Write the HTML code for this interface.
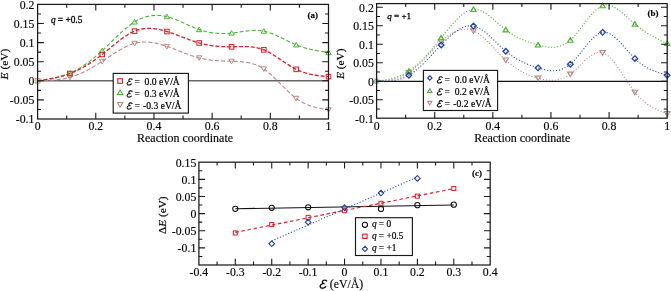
<!DOCTYPE html>
<html><head><meta charset="utf-8"><style>
html,body{margin:0;padding:0;background:#fff;}
svg{display:block;will-change:transform;}
</style></head><body>
<svg width="671" height="291" viewBox="0 0 671 291">
<defs><clipPath id="ca"><rect x="37.6" y="4.3999999999999915" width="290.9" height="114.60000000000001"/></clipPath><clipPath id="cb"><rect x="376.6" y="3.6" width="290.6" height="114.60000000000001"/></clipPath></defs><line x1="37.6" y1="80.85" x2="328.5" y2="80.85" stroke="#666" stroke-width="1.5"/><path d="M37.60 80.80 L38.41 80.79 L39.22 80.77 L40.02 80.76 L40.83 80.74 L41.64 80.73 L42.45 80.71 L43.26 80.69 L44.06 80.67 L44.87 80.64 L45.68 80.62 L46.49 80.59 L47.30 80.56 L48.10 80.52 L48.91 80.48 L49.72 80.44 L50.53 80.40 L51.34 80.35 L52.14 80.29 L52.95 80.23 L53.76 80.16 L54.57 80.09 L55.38 80.02 L56.19 79.94 L56.99 79.85 L57.80 79.75 L58.61 79.65 L59.42 79.54 L60.23 79.43 L61.03 79.30 L61.84 79.17 L62.65 79.03 L63.46 78.88 L64.27 78.73 L65.07 78.56 L65.88 78.38 L66.69 78.20 L67.50 78.01 L68.31 77.80 L69.11 77.59 L69.92 77.36 L70.73 77.13 L71.54 76.88 L72.35 76.62 L73.15 76.36 L73.96 76.08 L74.77 75.79 L75.58 75.49 L76.39 75.19 L77.19 74.87 L78.00 74.54 L78.81 74.21 L79.62 73.87 L80.43 73.51 L81.23 73.15 L82.04 72.78 L82.85 72.41 L83.66 72.02 L84.47 71.63 L85.28 71.23 L86.08 70.82 L86.89 70.40 L87.70 69.98 L88.51 69.55 L89.32 69.11 L90.12 68.66 L90.93 68.21 L91.74 67.76 L92.55 67.29 L93.36 66.82 L94.16 66.35 L94.97 65.87 L95.78 65.38 L96.59 64.89 L97.40 64.40 L98.20 63.89 L99.01 63.39 L99.82 62.88 L100.63 62.36 L101.44 61.84 L102.24 61.32 L103.05 60.79 L103.86 60.26 L104.67 59.73 L105.48 59.19 L106.28 58.65 L107.09 58.11 L107.90 57.58 L108.71 57.04 L109.52 56.50 L110.32 55.96 L111.13 55.43 L111.94 54.89 L112.75 54.37 L113.56 53.84 L114.37 53.32 L115.17 52.80 L115.98 52.29 L116.79 51.79 L117.60 51.29 L118.41 50.80 L119.21 50.31 L120.02 49.84 L120.83 49.37 L121.64 48.91 L122.45 48.47 L123.25 48.03 L124.06 47.60 L124.87 47.19 L125.68 46.79 L126.49 46.40 L127.29 46.03 L128.10 45.67 L128.91 45.32 L129.72 44.99 L130.53 44.68 L131.33 44.38 L132.14 44.10 L132.95 43.84 L133.76 43.59 L134.57 43.36 L135.37 43.16 L136.18 42.97 L136.99 42.80 L137.80 42.65 L138.61 42.52 L139.41 42.40 L140.22 42.30 L141.03 42.22 L141.84 42.16 L142.65 42.11 L143.46 42.07 L144.26 42.06 L145.07 42.05 L145.88 42.07 L146.69 42.09 L147.50 42.14 L148.30 42.19 L149.11 42.26 L149.92 42.34 L150.73 42.43 L151.54 42.54 L152.34 42.66 L153.15 42.79 L153.96 42.93 L154.77 43.08 L155.58 43.24 L156.38 43.41 L157.19 43.60 L158.00 43.79 L158.81 43.99 L159.62 44.20 L160.42 44.42 L161.23 44.64 L162.04 44.88 L162.85 45.12 L163.66 45.37 L164.46 45.62 L165.27 45.88 L166.08 46.15 L166.89 46.42 L167.70 46.70 L168.50 46.98 L169.31 47.27 L170.12 47.56 L170.93 47.85 L171.74 48.15 L172.55 48.45 L173.35 48.76 L174.16 49.06 L174.97 49.37 L175.78 49.68 L176.59 50.00 L177.39 50.31 L178.20 50.62 L179.01 50.94 L179.82 51.25 L180.63 51.56 L181.43 51.88 L182.24 52.19 L183.05 52.50 L183.86 52.81 L184.67 53.11 L185.47 53.42 L186.28 53.72 L187.09 54.02 L187.90 54.31 L188.71 54.60 L189.51 54.89 L190.32 55.17 L191.13 55.45 L191.94 55.72 L192.75 55.99 L193.55 56.25 L194.36 56.50 L195.17 56.75 L195.98 56.99 L196.79 57.23 L197.59 57.45 L198.40 57.67 L199.21 57.88 L200.02 58.08 L200.83 58.27 L201.64 58.46 L202.44 58.63 L203.25 58.80 L204.06 58.96 L204.87 59.11 L205.68 59.26 L206.48 59.40 L207.29 59.53 L208.10 59.66 L208.91 59.78 L209.72 59.89 L210.52 59.99 L211.33 60.09 L212.14 60.19 L212.95 60.28 L213.76 60.36 L214.56 60.44 L215.37 60.52 L216.18 60.59 L216.99 60.65 L217.80 60.71 L218.60 60.77 L219.41 60.83 L220.22 60.88 L221.03 60.92 L221.84 60.97 L222.64 61.01 L223.45 61.04 L224.26 61.08 L225.07 61.11 L225.88 61.14 L226.68 61.17 L227.49 61.20 L228.30 61.23 L229.11 61.25 L229.92 61.27 L230.73 61.30 L231.53 61.32 L232.34 61.34 L233.15 61.36 L233.96 61.38 L234.77 61.41 L235.57 61.43 L236.38 61.46 L237.19 61.50 L238.00 61.53 L238.81 61.57 L239.61 61.62 L240.42 61.67 L241.23 61.73 L242.04 61.80 L242.85 61.88 L243.65 61.96 L244.46 62.06 L245.27 62.16 L246.08 62.28 L246.89 62.41 L247.69 62.55 L248.50 62.70 L249.31 62.87 L250.12 63.05 L250.93 63.24 L251.73 63.45 L252.54 63.68 L253.35 63.93 L254.16 64.19 L254.97 64.47 L255.77 64.77 L256.58 65.09 L257.39 65.43 L258.20 65.79 L259.01 66.17 L259.82 66.58 L260.62 67.00 L261.43 67.45 L262.24 67.93 L263.05 68.43 L263.86 68.96 L264.66 69.51 L265.47 70.09 L266.28 70.69 L267.09 71.31 L267.90 71.96 L268.70 72.63 L269.51 73.31 L270.32 74.01 L271.13 74.73 L271.94 75.47 L272.74 76.21 L273.55 76.98 L274.36 77.75 L275.17 78.53 L275.98 79.32 L276.78 80.12 L277.59 80.93 L278.40 81.74 L279.21 82.55 L280.02 83.37 L280.82 84.19 L281.63 85.01 L282.44 85.83 L283.25 86.64 L284.06 87.45 L284.87 88.26 L285.67 89.06 L286.48 89.86 L287.29 90.64 L288.10 91.42 L288.91 92.18 L289.71 92.94 L290.52 93.68 L291.33 94.40 L292.14 95.11 L292.95 95.80 L293.75 96.48 L294.56 97.13 L295.37 97.76 L296.18 98.37 L297.01 98.97 L297.84 99.55 L298.66 100.11 L299.49 100.64 L300.32 101.15 L301.15 101.64 L301.98 102.10 L302.81 102.55 L303.64 102.98 L304.47 103.39 L305.29 103.78 L306.12 104.15 L306.95 104.51 L307.78 104.85 L308.61 105.17 L309.44 105.48 L310.27 105.77 L311.10 106.05 L311.92 106.32 L312.75 106.57 L313.58 106.81 L314.41 107.04 L315.24 107.26 L316.07 107.47 L316.90 107.67 L317.73 107.86 L318.55 108.05 L319.38 108.22 L320.21 108.39 L321.04 108.55 L321.87 108.71 L322.70 108.86 L323.53 109.01 L324.36 109.15 L325.18 109.29 L326.01 109.43 L326.84 109.56 L327.67 109.70 L328.50 109.83" fill="none" stroke="#b88888" stroke-width="1.1" stroke-dasharray="4.2 2.1" clip-path="url(#ca)"/><path d="M37.60 80.80 L38.41 80.69 L39.22 80.58 L40.02 80.47 L40.83 80.35 L41.64 80.24 L42.45 80.12 L43.26 80.01 L44.06 79.89 L44.87 79.77 L45.68 79.64 L46.49 79.51 L47.30 79.38 L48.10 79.25 L48.91 79.11 L49.72 78.97 L50.53 78.82 L51.34 78.67 L52.14 78.51 L52.95 78.35 L53.76 78.18 L54.57 78.01 L55.38 77.83 L56.19 77.64 L56.99 77.45 L57.80 77.25 L58.61 77.04 L59.42 76.82 L60.23 76.60 L61.03 76.36 L61.84 76.12 L62.65 75.87 L63.46 75.61 L64.27 75.34 L65.07 75.06 L65.88 74.77 L66.69 74.47 L67.50 74.16 L68.31 73.84 L69.11 73.51 L69.92 73.16 L70.73 72.80 L71.54 72.43 L72.35 72.05 L73.15 71.66 L73.96 71.25 L74.77 70.84 L75.58 70.41 L76.39 69.97 L77.19 69.52 L78.00 69.06 L78.81 68.59 L79.62 68.11 L80.43 67.61 L81.23 67.11 L82.04 66.60 L82.85 66.07 L83.66 65.53 L84.47 64.99 L85.28 64.43 L86.08 63.87 L86.89 63.29 L87.70 62.71 L88.51 62.11 L89.32 61.51 L90.12 60.89 L90.93 60.27 L91.74 59.64 L92.55 59.00 L93.36 58.35 L94.16 57.69 L94.97 57.02 L95.78 56.34 L96.59 55.65 L97.40 54.96 L98.20 54.26 L99.01 53.55 L99.82 52.83 L100.63 52.10 L101.44 51.36 L102.24 50.62 L103.05 49.87 L103.86 49.11 L104.67 48.35 L105.48 47.58 L106.28 46.81 L107.09 46.03 L107.90 45.24 L108.71 44.46 L109.52 43.67 L110.32 42.88 L111.13 42.09 L111.94 41.30 L112.75 40.51 L113.56 39.73 L114.37 38.94 L115.17 38.16 L115.98 37.38 L116.79 36.60 L117.60 35.83 L118.41 35.07 L119.21 34.31 L120.02 33.55 L120.83 32.81 L121.64 32.07 L122.45 31.34 L123.25 30.63 L124.06 29.92 L124.87 29.22 L125.68 28.54 L126.49 27.86 L127.29 27.20 L128.10 26.56 L128.91 25.93 L129.72 25.31 L130.53 24.71 L131.33 24.13 L132.14 23.56 L132.95 23.01 L133.76 22.48 L134.57 21.97 L135.37 21.48 L136.18 21.01 L136.99 20.56 L137.80 20.13 L138.61 19.72 L139.41 19.33 L140.22 18.95 L141.03 18.60 L141.84 18.26 L142.65 17.95 L143.46 17.65 L144.26 17.37 L145.07 17.11 L145.88 16.87 L146.69 16.65 L147.50 16.44 L148.30 16.26 L149.11 16.09 L149.92 15.94 L150.73 15.80 L151.54 15.69 L152.34 15.59 L153.15 15.50 L153.96 15.44 L154.77 15.39 L155.58 15.36 L156.38 15.35 L157.19 15.35 L158.00 15.37 L158.81 15.40 L159.62 15.45 L160.42 15.52 L161.23 15.61 L162.04 15.70 L162.85 15.82 L163.66 15.95 L164.46 16.10 L165.27 16.26 L166.08 16.43 L166.89 16.62 L167.70 16.83 L168.50 17.05 L169.31 17.28 L170.12 17.53 L170.93 17.79 L171.74 18.06 L172.55 18.34 L173.35 18.64 L174.16 18.94 L174.97 19.25 L175.78 19.57 L176.59 19.90 L177.39 20.23 L178.20 20.57 L179.01 20.92 L179.82 21.27 L180.63 21.63 L181.43 21.99 L182.24 22.35 L183.05 22.72 L183.86 23.09 L184.67 23.46 L185.47 23.83 L186.28 24.20 L187.09 24.57 L187.90 24.94 L188.71 25.31 L189.51 25.67 L190.32 26.03 L191.13 26.39 L191.94 26.74 L192.75 27.09 L193.55 27.43 L194.36 27.77 L195.17 28.10 L195.98 28.42 L196.79 28.73 L197.59 29.03 L198.40 29.33 L199.21 29.61 L200.02 29.89 L200.83 30.15 L201.64 30.40 L202.44 30.64 L203.25 30.87 L204.06 31.09 L204.87 31.30 L205.68 31.50 L206.48 31.69 L207.29 31.87 L208.10 32.04 L208.91 32.20 L209.72 32.35 L210.52 32.49 L211.33 32.62 L212.14 32.74 L212.95 32.85 L213.76 32.95 L214.56 33.04 L215.37 33.13 L216.18 33.20 L216.99 33.27 L217.80 33.33 L218.60 33.38 L219.41 33.42 L220.22 33.45 L221.03 33.47 L221.84 33.48 L222.64 33.49 L223.45 33.49 L224.26 33.48 L225.07 33.46 L225.88 33.44 L226.68 33.40 L227.49 33.36 L228.30 33.32 L229.11 33.26 L229.92 33.20 L230.73 33.13 L231.53 33.05 L232.34 32.97 L233.15 32.88 L233.96 32.78 L234.77 32.68 L235.57 32.57 L236.38 32.46 L237.19 32.35 L238.00 32.23 L238.81 32.12 L239.61 32.00 L240.42 31.88 L241.23 31.76 L242.04 31.64 L242.85 31.53 L243.65 31.41 L244.46 31.30 L245.27 31.19 L246.08 31.09 L246.89 30.99 L247.69 30.89 L248.50 30.80 L249.31 30.72 L250.12 30.65 L250.93 30.58 L251.73 30.53 L252.54 30.48 L253.35 30.44 L254.16 30.41 L254.97 30.39 L255.77 30.39 L256.58 30.40 L257.39 30.42 L258.20 30.45 L259.01 30.50 L259.82 30.57 L260.62 30.65 L261.43 30.74 L262.24 30.86 L263.05 30.99 L263.86 31.14 L264.66 31.31 L265.47 31.50 L266.28 31.70 L267.09 31.92 L267.90 32.16 L268.70 32.41 L269.51 32.68 L270.32 32.96 L271.13 33.26 L271.94 33.57 L272.74 33.88 L273.55 34.21 L274.36 34.55 L275.17 34.90 L275.98 35.26 L276.78 35.63 L277.59 36.00 L278.40 36.38 L279.21 36.77 L280.02 37.16 L280.82 37.55 L281.63 37.95 L282.44 38.35 L283.25 38.76 L284.06 39.16 L284.87 39.57 L285.67 39.97 L286.48 40.38 L287.29 40.78 L288.10 41.18 L288.91 41.58 L289.71 41.97 L290.52 42.36 L291.33 42.74 L292.14 43.12 L292.95 43.49 L293.75 43.86 L294.56 44.21 L295.37 44.56 L296.18 44.89 L297.01 45.23 L297.84 45.55 L298.66 45.86 L299.49 46.16 L300.32 46.46 L301.15 46.74 L301.98 47.01 L302.81 47.28 L303.64 47.53 L304.47 47.78 L305.29 48.02 L306.12 48.25 L306.95 48.48 L307.78 48.69 L308.61 48.90 L309.44 49.10 L310.27 49.30 L311.10 49.49 L311.92 49.67 L312.75 49.85 L313.58 50.02 L314.41 50.19 L315.24 50.35 L316.07 50.51 L316.90 50.66 L317.73 50.81 L318.55 50.96 L319.38 51.10 L320.21 51.24 L321.04 51.38 L321.87 51.51 L322.70 51.65 L323.53 51.78 L324.36 51.91 L325.18 52.03 L326.01 52.16 L326.84 52.28 L327.67 52.41 L328.50 52.53" fill="none" stroke="#48b430" stroke-width="1.1" stroke-dasharray="3.9 2.2" clip-path="url(#ca)"/><path d="M37.60 80.80 L38.41 80.68 L39.22 80.56 L40.02 80.44 L40.83 80.32 L41.64 80.20 L42.45 80.08 L43.26 79.95 L44.06 79.82 L44.87 79.70 L45.68 79.57 L46.49 79.43 L47.30 79.30 L48.10 79.16 L48.91 79.02 L49.72 78.88 L50.53 78.73 L51.34 78.58 L52.14 78.42 L52.95 78.27 L53.76 78.10 L54.57 77.93 L55.38 77.76 L56.19 77.58 L56.99 77.40 L57.80 77.21 L58.61 77.01 L59.42 76.81 L60.23 76.61 L61.03 76.39 L61.84 76.17 L62.65 75.94 L63.46 75.71 L64.27 75.47 L65.07 75.22 L65.88 74.96 L66.69 74.69 L67.50 74.42 L68.31 74.13 L69.11 73.84 L69.92 73.54 L70.73 73.23 L71.54 72.91 L72.35 72.58 L73.15 72.25 L73.96 71.90 L74.77 71.54 L75.58 71.18 L76.39 70.80 L77.19 70.42 L78.00 70.03 L78.81 69.63 L79.62 69.22 L80.43 68.80 L81.23 68.38 L82.04 67.94 L82.85 67.50 L83.66 67.05 L84.47 66.59 L85.28 66.12 L86.08 65.64 L86.89 65.16 L87.70 64.66 L88.51 64.16 L89.32 63.65 L90.12 63.13 L90.93 62.61 L91.74 62.08 L92.55 61.53 L93.36 60.98 L94.16 60.43 L94.97 59.86 L95.78 59.29 L96.59 58.71 L97.40 58.12 L98.20 57.53 L99.01 56.93 L99.82 56.32 L100.63 55.70 L101.44 55.07 L102.24 54.44 L103.05 53.80 L103.86 53.16 L104.67 52.51 L105.48 51.85 L106.28 51.19 L107.09 50.53 L107.90 49.86 L108.71 49.19 L109.52 48.52 L110.32 47.85 L111.13 47.18 L111.94 46.51 L112.75 45.84 L113.56 45.18 L114.37 44.52 L115.17 43.86 L115.98 43.21 L116.79 42.56 L117.60 41.91 L118.41 41.28 L119.21 40.65 L120.02 40.03 L120.83 39.42 L121.64 38.82 L122.45 38.23 L123.25 37.65 L124.06 37.08 L124.87 36.53 L125.68 35.99 L126.49 35.46 L127.29 34.95 L128.10 34.46 L128.91 33.98 L129.72 33.51 L130.53 33.07 L131.33 32.64 L132.14 32.24 L132.95 31.85 L133.76 31.48 L134.57 31.14 L135.37 30.82 L136.18 30.52 L136.99 30.24 L137.80 29.98 L138.61 29.75 L139.41 29.53 L140.22 29.33 L141.03 29.16 L141.84 29.00 L142.65 28.86 L143.46 28.74 L144.26 28.64 L145.07 28.55 L145.88 28.49 L146.69 28.44 L147.50 28.40 L148.30 28.38 L149.11 28.38 L149.92 28.39 L150.73 28.42 L151.54 28.46 L152.34 28.52 L153.15 28.59 L153.96 28.68 L154.77 28.77 L155.58 28.88 L156.38 29.00 L157.19 29.14 L158.00 29.28 L158.81 29.44 L159.62 29.61 L160.42 29.78 L161.23 29.97 L162.04 30.17 L162.85 30.37 L163.66 30.59 L164.46 30.81 L165.27 31.04 L166.08 31.28 L166.89 31.52 L167.70 31.77 L168.50 32.03 L169.31 32.30 L170.12 32.57 L170.93 32.84 L171.74 33.12 L172.55 33.41 L173.35 33.70 L174.16 33.99 L174.97 34.29 L175.78 34.59 L176.59 34.89 L177.39 35.19 L178.20 35.50 L179.01 35.81 L179.82 36.12 L180.63 36.43 L181.43 36.74 L182.24 37.05 L183.05 37.36 L183.86 37.67 L184.67 37.98 L185.47 38.29 L186.28 38.60 L187.09 38.90 L187.90 39.21 L188.71 39.50 L189.51 39.80 L190.32 40.09 L191.13 40.38 L191.94 40.67 L192.75 40.95 L193.55 41.22 L194.36 41.49 L195.17 41.76 L195.98 42.02 L196.79 42.27 L197.59 42.51 L198.40 42.75 L199.21 42.98 L200.02 43.20 L200.83 43.42 L201.64 43.63 L202.44 43.83 L203.25 44.02 L204.06 44.20 L204.87 44.38 L205.68 44.55 L206.48 44.71 L207.29 44.87 L208.10 45.02 L208.91 45.16 L209.72 45.30 L210.52 45.43 L211.33 45.55 L212.14 45.66 L212.95 45.77 L213.76 45.88 L214.56 45.98 L215.37 46.07 L216.18 46.15 L216.99 46.23 L217.80 46.31 L218.60 46.38 L219.41 46.44 L220.22 46.50 L221.03 46.55 L221.84 46.60 L222.64 46.64 L223.45 46.68 L224.26 46.71 L225.07 46.74 L225.88 46.76 L226.68 46.78 L227.49 46.80 L228.30 46.80 L229.11 46.81 L229.92 46.81 L230.73 46.81 L231.53 46.80 L232.34 46.79 L233.15 46.78 L233.96 46.76 L234.77 46.74 L235.57 46.72 L236.38 46.70 L237.19 46.68 L238.00 46.66 L238.81 46.64 L239.61 46.62 L240.42 46.61 L241.23 46.59 L242.04 46.58 L242.85 46.58 L243.65 46.58 L244.46 46.58 L245.27 46.59 L246.08 46.61 L246.89 46.63 L247.69 46.67 L248.50 46.71 L249.31 46.75 L250.12 46.81 L250.93 46.88 L251.73 46.96 L252.54 47.05 L253.35 47.15 L254.16 47.27 L254.97 47.40 L255.77 47.54 L256.58 47.70 L257.39 47.87 L258.20 48.06 L259.01 48.26 L259.82 48.48 L260.62 48.72 L261.43 48.98 L262.24 49.25 L263.05 49.54 L263.86 49.86 L264.66 50.19 L265.47 50.55 L266.28 50.92 L267.09 51.31 L267.90 51.72 L268.70 52.14 L269.51 52.58 L270.32 53.03 L271.13 53.49 L271.94 53.97 L272.74 54.46 L273.55 54.96 L274.36 55.47 L275.17 55.98 L275.98 56.51 L276.78 57.04 L277.59 57.57 L278.40 58.11 L279.21 58.66 L280.02 59.21 L280.82 59.76 L281.63 60.31 L282.44 60.86 L283.25 61.41 L284.06 61.96 L284.87 62.50 L285.67 63.04 L286.48 63.58 L287.29 64.11 L288.10 64.64 L288.91 65.16 L289.71 65.67 L290.52 66.17 L291.33 66.66 L292.14 67.14 L292.95 67.61 L293.75 68.06 L294.56 68.50 L295.37 68.93 L296.18 69.34 L297.01 69.74 L297.84 70.13 L298.66 70.50 L299.49 70.86 L300.32 71.20 L301.15 71.52 L301.98 71.83 L302.81 72.12 L303.64 72.40 L304.47 72.67 L305.29 72.93 L306.12 73.17 L306.95 73.40 L307.78 73.62 L308.61 73.82 L309.44 74.02 L310.27 74.21 L311.10 74.38 L311.92 74.55 L312.75 74.71 L313.58 74.85 L314.41 75.00 L315.24 75.13 L316.07 75.26 L316.90 75.38 L317.73 75.49 L318.55 75.60 L319.38 75.70 L320.21 75.80 L321.04 75.89 L321.87 75.98 L322.70 76.06 L323.53 76.15 L324.36 76.23 L325.18 76.30 L326.01 76.38 L326.84 76.45 L327.67 76.53 L328.50 76.60" fill="none" stroke="#e01c24" stroke-width="1.3" stroke-dasharray="4 1.9" clip-path="url(#ca)"/><path d="M37.60 83.33L40.30 78.73L34.90 78.73Z" fill="none" stroke="#b88888" stroke-width="1.0" stroke-linejoin="miter" opacity="0.35"/><path d="M69.92 79.89L72.62 75.29L67.22 75.29Z" fill="none" stroke="#b88888" stroke-width="1.0" stroke-linejoin="miter"/><path d="M102.24 63.85L104.94 59.25L99.54 59.25Z" fill="none" stroke="#b88888" stroke-width="1.0" stroke-linejoin="miter"/><path d="M134.57 45.89L137.27 41.29L131.87 41.29Z" fill="none" stroke="#b88888" stroke-width="1.0" stroke-linejoin="miter"/><path d="M166.89 48.95L169.59 44.35L164.19 44.35Z" fill="none" stroke="#b88888" stroke-width="1.0" stroke-linejoin="miter"/><path d="M199.21 60.41L201.91 55.81L196.51 55.81Z" fill="none" stroke="#b88888" stroke-width="1.0" stroke-linejoin="miter"/><path d="M231.53 63.85L234.23 59.25L228.83 59.25Z" fill="none" stroke="#b88888" stroke-width="1.0" stroke-linejoin="miter"/><path d="M263.86 71.49L266.56 66.89L261.16 66.89Z" fill="none" stroke="#b88888" stroke-width="1.0" stroke-linejoin="miter"/><path d="M296.18 100.90L298.88 96.30L293.48 96.30Z" fill="none" stroke="#b88888" stroke-width="1.0" stroke-linejoin="miter"/><path d="M328.50 112.36L331.20 107.76L325.80 107.76Z" fill="none" stroke="#b88888" stroke-width="1.0" stroke-linejoin="miter"/><path d="M37.60 78.27L40.30 82.87L34.90 82.87Z" fill="none" stroke="#48b430" stroke-width="1.0" stroke-linejoin="miter" opacity="0.35"/><path d="M69.92 70.63L72.62 75.23L67.22 75.23Z" fill="none" stroke="#48b430" stroke-width="1.0" stroke-linejoin="miter"/><path d="M102.24 48.09L104.94 52.69L99.54 52.69Z" fill="none" stroke="#48b430" stroke-width="1.0" stroke-linejoin="miter"/><path d="M134.57 19.44L137.27 24.04L131.87 24.04Z" fill="none" stroke="#48b430" stroke-width="1.0" stroke-linejoin="miter"/><path d="M166.89 14.09L169.59 18.69L164.19 18.69Z" fill="none" stroke="#48b430" stroke-width="1.0" stroke-linejoin="miter"/><path d="M199.21 27.08L201.91 31.68L196.51 31.68Z" fill="none" stroke="#48b430" stroke-width="1.0" stroke-linejoin="miter"/><path d="M231.53 30.52L234.23 35.12L228.83 35.12Z" fill="none" stroke="#48b430" stroke-width="1.0" stroke-linejoin="miter"/><path d="M263.86 28.61L266.56 33.21L261.16 33.21Z" fill="none" stroke="#48b430" stroke-width="1.0" stroke-linejoin="miter"/><path d="M296.18 42.36L298.88 46.96L293.48 46.96Z" fill="none" stroke="#48b430" stroke-width="1.0" stroke-linejoin="miter"/><path d="M328.50 50.00L331.20 54.60L325.80 54.60Z" fill="none" stroke="#48b430" stroke-width="1.0" stroke-linejoin="miter"/><rect x="35.30" y="78.50" width="4.60" height="4.60" fill="none" stroke="#e01c24" stroke-width="1.0" opacity="0.35"/><rect x="67.62" y="71.24" width="4.60" height="4.60" fill="none" stroke="#e01c24" stroke-width="1.0"/><rect x="99.94" y="52.14" width="4.60" height="4.60" fill="none" stroke="#e01c24" stroke-width="1.0"/><rect x="132.27" y="28.84" width="4.60" height="4.60" fill="none" stroke="#e01c24" stroke-width="1.0"/><rect x="164.59" y="29.22" width="4.60" height="4.60" fill="none" stroke="#e01c24" stroke-width="1.0"/><rect x="196.91" y="40.68" width="4.60" height="4.60" fill="none" stroke="#e01c24" stroke-width="1.0"/><rect x="229.23" y="44.50" width="4.60" height="4.60" fill="none" stroke="#e01c24" stroke-width="1.0"/><rect x="261.56" y="47.56" width="4.60" height="4.60" fill="none" stroke="#e01c24" stroke-width="1.0"/><rect x="293.88" y="67.04" width="4.60" height="4.60" fill="none" stroke="#e01c24" stroke-width="1.0"/><rect x="326.20" y="74.30" width="4.60" height="4.60" fill="none" stroke="#e01c24" stroke-width="1.0"/><line x1="376.6" y1="81.45" x2="667.2" y2="81.45" stroke="#111" stroke-width="1.3"/><path d="M376.60 81.20 L377.41 81.15 L378.21 81.11 L379.02 81.06 L379.83 81.01 L380.64 80.96 L381.44 80.91 L382.25 80.85 L383.06 80.78 L383.87 80.72 L384.67 80.64 L385.48 80.56 L386.29 80.48 L387.09 80.38 L387.90 80.28 L388.71 80.17 L389.52 80.05 L390.32 79.92 L391.13 79.78 L391.94 79.62 L392.74 79.46 L393.55 79.28 L394.36 79.09 L395.17 78.89 L395.97 78.67 L396.78 78.43 L397.59 78.18 L398.40 77.92 L399.20 77.64 L400.01 77.33 L400.82 77.02 L401.62 76.68 L402.43 76.32 L403.24 75.94 L404.05 75.55 L404.85 75.13 L405.66 74.69 L406.47 74.22 L407.27 73.74 L408.08 73.23 L408.89 72.69 L409.70 72.13 L410.50 71.55 L411.31 70.94 L412.12 70.31 L412.93 69.66 L413.73 68.99 L414.54 68.30 L415.35 67.59 L416.15 66.87 L416.96 66.13 L417.77 65.37 L418.58 64.60 L419.38 63.82 L420.19 63.03 L421.00 62.22 L421.80 61.41 L422.61 60.59 L423.42 59.76 L424.23 58.92 L425.03 58.08 L425.84 57.23 L426.65 56.38 L427.46 55.52 L428.26 54.67 L429.07 53.81 L429.88 52.96 L430.68 52.10 L431.49 51.25 L432.30 50.40 L433.11 49.56 L433.91 48.72 L434.72 47.89 L435.53 47.07 L436.33 46.26 L437.14 45.45 L437.95 44.66 L438.76 43.88 L439.56 43.11 L440.37 42.35 L441.18 41.61 L441.99 40.89 L442.79 40.18 L443.60 39.49 L444.41 38.81 L445.21 38.16 L446.02 37.52 L446.83 36.90 L447.64 36.30 L448.44 35.72 L449.25 35.17 L450.06 34.63 L450.86 34.12 L451.67 33.63 L452.48 33.16 L453.29 32.71 L454.09 32.29 L454.90 31.90 L455.71 31.53 L456.51 31.18 L457.32 30.86 L458.13 30.57 L458.94 30.31 L459.74 30.07 L460.55 29.86 L461.36 29.68 L462.17 29.54 L462.97 29.42 L463.78 29.33 L464.59 29.27 L465.39 29.25 L466.20 29.26 L467.01 29.30 L467.82 29.37 L468.62 29.48 L469.43 29.62 L470.24 29.80 L471.05 30.02 L471.85 30.27 L472.66 30.56 L473.47 30.88 L474.27 31.24 L475.08 31.64 L475.89 32.08 L476.70 32.54 L477.50 33.04 L478.31 33.58 L479.12 34.14 L479.92 34.73 L480.73 35.34 L481.54 35.98 L482.35 36.65 L483.15 37.34 L483.96 38.04 L484.77 38.77 L485.58 39.52 L486.38 40.29 L487.19 41.07 L488.00 41.86 L488.80 42.67 L489.61 43.49 L490.42 44.31 L491.23 45.15 L492.03 46.00 L492.84 46.85 L493.65 47.70 L494.45 48.56 L495.26 49.42 L496.07 50.28 L496.88 51.14 L497.68 51.99 L498.49 52.85 L499.30 53.69 L500.11 54.53 L500.91 55.36 L501.72 56.19 L502.53 57.00 L503.33 57.80 L504.14 58.58 L504.95 59.36 L505.76 60.11 L506.56 60.85 L507.37 61.57 L508.18 62.27 L508.98 62.95 L509.79 63.62 L510.60 64.27 L511.41 64.91 L512.21 65.52 L513.02 66.13 L513.83 66.71 L514.63 67.29 L515.44 67.84 L516.25 68.38 L517.06 68.91 L517.86 69.42 L518.67 69.92 L519.48 70.40 L520.29 70.87 L521.09 71.33 L521.90 71.77 L522.71 72.21 L523.51 72.62 L524.32 73.03 L525.13 73.42 L525.94 73.80 L526.74 74.17 L527.55 74.53 L528.36 74.88 L529.17 75.21 L529.97 75.54 L530.78 75.85 L531.59 76.15 L532.39 76.45 L533.20 76.73 L534.01 77.00 L534.82 77.27 L535.62 77.53 L536.43 77.77 L537.24 78.01 L538.04 78.24 L538.85 78.46 L539.66 78.67 L540.47 78.88 L541.27 79.07 L542.08 79.25 L542.89 79.43 L543.70 79.59 L544.50 79.73 L545.31 79.87 L546.12 79.99 L546.92 80.09 L547.73 80.19 L548.54 80.26 L549.35 80.32 L550.15 80.36 L550.96 80.39 L551.77 80.40 L552.57 80.38 L553.38 80.35 L554.19 80.30 L555.00 80.23 L555.80 80.14 L556.61 80.03 L557.42 79.89 L558.23 79.73 L559.03 79.55 L559.84 79.34 L560.65 79.11 L561.45 78.85 L562.26 78.57 L563.07 78.26 L563.88 77.92 L564.68 77.56 L565.49 77.17 L566.30 76.74 L567.10 76.29 L567.91 75.81 L568.72 75.29 L569.53 74.75 L570.33 74.17 L571.14 73.56 L571.95 72.92 L572.75 72.25 L573.56 71.56 L574.37 70.84 L575.18 70.11 L575.98 69.36 L576.79 68.59 L577.60 67.82 L578.41 67.03 L579.21 66.24 L580.02 65.45 L580.83 64.65 L581.63 63.86 L582.44 63.07 L583.25 62.29 L584.06 61.52 L584.86 60.76 L585.67 60.02 L586.48 59.29 L587.29 58.59 L588.09 57.91 L588.90 57.25 L589.71 56.63 L590.51 56.03 L591.32 55.47 L592.13 54.95 L592.94 54.46 L593.74 54.02 L594.55 53.62 L595.36 53.27 L596.16 52.97 L596.97 52.73 L597.78 52.54 L598.59 52.40 L599.39 52.33 L600.20 52.33 L601.01 52.38 L601.82 52.51 L602.62 52.71 L603.43 52.98 L604.24 53.33 L605.04 53.74 L605.85 54.22 L606.66 54.76 L607.47 55.36 L608.27 56.02 L609.08 56.74 L609.89 57.51 L610.69 58.33 L611.50 59.19 L612.31 60.10 L613.12 61.05 L613.92 62.04 L614.73 63.06 L615.54 64.12 L616.35 65.21 L617.15 66.33 L617.96 67.47 L618.77 68.63 L619.57 69.81 L620.38 71.01 L621.19 72.22 L622.00 73.45 L622.80 74.68 L623.61 75.92 L624.42 77.16 L625.22 78.40 L626.03 79.64 L626.84 80.87 L627.65 82.09 L628.45 83.31 L629.26 84.51 L630.07 85.69 L630.88 86.86 L631.68 88.00 L632.49 89.12 L633.30 90.21 L634.10 91.27 L634.91 92.30 L635.74 93.32 L636.57 94.30 L637.39 95.25 L638.22 96.16 L639.05 97.04 L639.88 97.88 L640.71 98.70 L641.53 99.48 L642.36 100.23 L643.19 100.96 L644.02 101.65 L644.85 102.32 L645.67 102.97 L646.50 103.59 L647.33 104.18 L648.16 104.75 L648.99 105.30 L649.81 105.83 L650.64 106.34 L651.47 106.83 L652.30 107.30 L653.13 107.76 L653.95 108.19 L654.78 108.62 L655.61 109.02 L656.44 109.42 L657.26 109.80 L658.09 110.17 L658.92 110.53 L659.75 110.88 L660.58 111.22 L661.40 111.56 L662.23 111.88 L663.06 112.21 L663.89 112.52 L664.72 112.83 L665.54 113.14 L666.37 113.45 L667.20 113.76" fill="none" stroke="#b88888" stroke-width="1.1" stroke-dasharray="1.1 1.9" clip-path="url(#cb)"/><path d="M376.60 81.20 L377.41 81.09 L378.21 80.98 L379.02 80.87 L379.83 80.76 L380.64 80.64 L381.44 80.53 L382.25 80.41 L383.06 80.28 L383.87 80.16 L384.67 80.02 L385.48 79.89 L386.29 79.74 L387.09 79.59 L387.90 79.43 L388.71 79.27 L389.52 79.10 L390.32 78.92 L391.13 78.73 L391.94 78.53 L392.74 78.32 L393.55 78.10 L394.36 77.87 L395.17 77.63 L395.97 77.37 L396.78 77.10 L397.59 76.82 L398.40 76.53 L399.20 76.22 L400.01 75.90 L400.82 75.56 L401.62 75.20 L402.43 74.83 L403.24 74.44 L404.05 74.04 L404.85 73.61 L405.66 73.17 L406.47 72.71 L407.27 72.23 L408.08 71.73 L408.89 71.21 L409.70 70.67 L410.50 70.11 L411.31 69.52 L412.12 68.92 L412.93 68.30 L413.73 67.66 L414.54 67.00 L415.35 66.32 L416.15 65.63 L416.96 64.91 L417.77 64.19 L418.58 63.44 L419.38 62.68 L420.19 61.91 L421.00 61.12 L421.80 60.31 L422.61 59.49 L423.42 58.66 L424.23 57.82 L425.03 56.96 L425.84 56.09 L426.65 55.21 L427.46 54.32 L428.26 53.42 L429.07 52.51 L429.88 51.58 L430.68 50.65 L431.49 49.71 L432.30 48.76 L433.11 47.81 L433.91 46.84 L434.72 45.87 L435.53 44.90 L436.33 43.91 L437.14 42.92 L437.95 41.93 L438.76 40.93 L439.56 39.93 L440.37 38.92 L441.18 37.91 L441.99 36.90 L442.79 35.88 L443.60 34.87 L444.41 33.85 L445.21 32.84 L446.02 31.84 L446.83 30.83 L447.64 29.84 L448.44 28.85 L449.25 27.87 L450.06 26.91 L450.86 25.95 L451.67 25.01 L452.48 24.08 L453.29 23.17 L454.09 22.27 L454.90 21.39 L455.71 20.54 L456.51 19.70 L457.32 18.89 L458.13 18.10 L458.94 17.33 L459.74 16.60 L460.55 15.89 L461.36 15.21 L462.17 14.56 L462.97 13.94 L463.78 13.35 L464.59 12.80 L465.39 12.29 L466.20 11.81 L467.01 11.38 L467.82 10.98 L468.62 10.62 L469.43 10.31 L470.24 10.04 L471.05 9.81 L471.85 9.63 L472.66 9.50 L473.47 9.42 L474.27 9.39 L475.08 9.41 L475.89 9.47 L476.70 9.58 L477.50 9.74 L478.31 9.93 L479.12 10.17 L479.92 10.45 L480.73 10.76 L481.54 11.11 L482.35 11.49 L483.15 11.91 L483.96 12.35 L484.77 12.83 L485.58 13.33 L486.38 13.86 L487.19 14.41 L488.00 14.98 L488.80 15.57 L489.61 16.19 L490.42 16.81 L491.23 17.46 L492.03 18.12 L492.84 18.79 L493.65 19.47 L494.45 20.16 L495.26 20.85 L496.07 21.55 L496.88 22.26 L497.68 22.97 L498.49 23.67 L499.30 24.38 L500.11 25.08 L500.91 25.78 L501.72 26.47 L502.53 27.15 L503.33 27.83 L504.14 28.49 L504.95 29.14 L505.76 29.77 L506.56 30.39 L507.37 30.99 L508.18 31.57 L508.98 32.14 L509.79 32.70 L510.60 33.24 L511.41 33.76 L512.21 34.27 L513.02 34.77 L513.83 35.25 L514.63 35.72 L515.44 36.18 L516.25 36.62 L517.06 37.05 L517.86 37.47 L518.67 37.88 L519.48 38.28 L520.29 38.66 L521.09 39.04 L521.90 39.40 L522.71 39.75 L523.51 40.09 L524.32 40.43 L525.13 40.75 L525.94 41.07 L526.74 41.38 L527.55 41.67 L528.36 41.96 L529.17 42.25 L529.97 42.52 L530.78 42.79 L531.59 43.05 L532.39 43.31 L533.20 43.56 L534.01 43.80 L534.82 44.04 L535.62 44.27 L536.43 44.50 L537.24 44.72 L538.04 44.94 L538.85 45.15 L539.66 45.37 L540.47 45.57 L541.27 45.77 L542.08 45.96 L542.89 46.14 L543.70 46.31 L544.50 46.47 L545.31 46.62 L546.12 46.75 L546.92 46.88 L547.73 46.98 L548.54 47.08 L549.35 47.15 L550.15 47.21 L550.96 47.25 L551.77 47.27 L552.57 47.27 L553.38 47.25 L554.19 47.21 L555.00 47.14 L555.80 47.05 L556.61 46.93 L557.42 46.79 L558.23 46.62 L559.03 46.42 L559.84 46.19 L560.65 45.93 L561.45 45.64 L562.26 45.32 L563.07 44.97 L563.88 44.58 L564.68 44.16 L565.49 43.70 L566.30 43.20 L567.10 42.67 L567.91 42.09 L568.72 41.48 L569.53 40.83 L570.33 40.13 L571.14 39.39 L571.95 38.61 L572.75 37.80 L573.56 36.95 L574.37 36.07 L575.18 35.15 L575.98 34.21 L576.79 33.25 L577.60 32.27 L578.41 31.26 L579.21 30.25 L580.02 29.21 L580.83 28.17 L581.63 27.12 L582.44 26.06 L583.25 25.00 L584.06 23.94 L584.86 22.89 L585.67 21.84 L586.48 20.79 L587.29 19.76 L588.09 18.74 L588.90 17.74 L589.71 16.75 L590.51 15.79 L591.32 14.85 L592.13 13.94 L592.94 13.05 L593.74 12.20 L594.55 11.39 L595.36 10.61 L596.16 9.87 L596.97 9.17 L597.78 8.52 L598.59 7.92 L599.39 7.37 L600.20 6.87 L601.01 6.43 L601.82 6.04 L602.62 5.72 L603.43 5.46 L604.24 5.26 L605.04 5.13 L605.85 5.05 L606.66 5.03 L607.47 5.06 L608.27 5.14 L609.08 5.28 L609.89 5.46 L610.69 5.69 L611.50 5.96 L612.31 6.28 L613.12 6.64 L613.92 7.03 L614.73 7.46 L615.54 7.93 L616.35 8.42 L617.15 8.95 L617.96 9.51 L618.77 10.09 L619.57 10.70 L620.38 11.33 L621.19 11.98 L622.00 12.64 L622.80 13.33 L623.61 14.03 L624.42 14.74 L625.22 15.46 L626.03 16.19 L626.84 16.93 L627.65 17.67 L628.45 18.41 L629.26 19.16 L630.07 19.90 L630.88 20.64 L631.68 21.38 L632.49 22.10 L633.30 22.82 L634.10 23.53 L634.91 24.22 L635.74 24.92 L636.57 25.59 L637.39 26.26 L638.22 26.91 L639.05 27.54 L639.88 28.16 L640.71 28.77 L641.53 29.36 L642.36 29.94 L643.19 30.51 L644.02 31.07 L644.85 31.61 L645.67 32.15 L646.50 32.67 L647.33 33.18 L648.16 33.69 L648.99 34.18 L649.81 34.66 L650.64 35.14 L651.47 35.61 L652.30 36.07 L653.13 36.52 L653.95 36.96 L654.78 37.40 L655.61 37.83 L656.44 38.26 L657.26 38.68 L658.09 39.10 L658.92 39.51 L659.75 39.91 L660.58 40.32 L661.40 40.72 L662.23 41.11 L663.06 41.51 L663.89 41.90 L664.72 42.29 L665.54 42.68 L666.37 43.07 L667.20 43.46" fill="none" stroke="#48b430" stroke-width="1.1" stroke-dasharray="1.1 1.9" clip-path="url(#cb)"/><path d="M376.60 81.20 L377.41 81.21 L378.21 81.23 L379.02 81.24 L379.83 81.25 L380.64 81.26 L381.44 81.26 L382.25 81.26 L383.06 81.26 L383.87 81.25 L384.67 81.24 L385.48 81.22 L386.29 81.20 L387.09 81.16 L387.90 81.12 L388.71 81.07 L389.52 81.01 L390.32 80.94 L391.13 80.86 L391.94 80.77 L392.74 80.67 L393.55 80.56 L394.36 80.43 L395.17 80.29 L395.97 80.14 L396.78 79.97 L397.59 79.79 L398.40 79.59 L399.20 79.37 L400.01 79.14 L400.82 78.89 L401.62 78.62 L402.43 78.33 L403.24 78.03 L404.05 77.70 L404.85 77.35 L405.66 76.98 L406.47 76.59 L407.27 76.18 L408.08 75.74 L408.89 75.28 L409.70 74.80 L410.50 74.29 L411.31 73.76 L412.12 73.20 L412.93 72.63 L413.73 72.03 L414.54 71.42 L415.35 70.79 L416.15 70.13 L416.96 69.47 L417.77 68.78 L418.58 68.08 L419.38 67.36 L420.19 66.63 L421.00 65.88 L421.80 65.12 L422.61 64.35 L423.42 63.57 L424.23 62.77 L425.03 61.97 L425.84 61.16 L426.65 60.33 L427.46 59.50 L428.26 58.67 L429.07 57.83 L429.88 56.98 L430.68 56.12 L431.49 55.27 L432.30 54.41 L433.11 53.54 L433.91 52.68 L434.72 51.81 L435.53 50.95 L436.33 50.08 L437.14 49.22 L437.95 48.35 L438.76 47.49 L439.56 46.64 L440.37 45.79 L441.18 44.94 L441.99 44.10 L442.79 43.26 L443.60 42.44 L444.41 41.62 L445.21 40.81 L446.02 40.01 L446.83 39.23 L447.64 38.45 L448.44 37.69 L449.25 36.95 L450.06 36.22 L450.86 35.50 L451.67 34.80 L452.48 34.13 L453.29 33.47 L454.09 32.83 L454.90 32.21 L455.71 31.61 L456.51 31.04 L457.32 30.49 L458.13 29.97 L458.94 29.47 L459.74 29.00 L460.55 28.56 L461.36 28.15 L462.17 27.76 L462.97 27.41 L463.78 27.09 L464.59 26.80 L465.39 26.55 L466.20 26.33 L467.01 26.14 L467.82 25.99 L468.62 25.88 L469.43 25.81 L470.24 25.78 L471.05 25.79 L471.85 25.84 L472.66 25.93 L473.47 26.07 L474.27 26.25 L475.08 26.47 L475.89 26.74 L476.70 27.04 L477.50 27.38 L478.31 27.76 L479.12 28.18 L479.92 28.62 L480.73 29.10 L481.54 29.61 L482.35 30.15 L483.15 30.71 L483.96 31.31 L484.77 31.92 L485.58 32.56 L486.38 33.22 L487.19 33.89 L488.00 34.59 L488.80 35.30 L489.61 36.03 L490.42 36.77 L491.23 37.52 L492.03 38.28 L492.84 39.05 L493.65 39.82 L494.45 40.61 L495.26 41.39 L496.07 42.18 L496.88 42.97 L497.68 43.75 L498.49 44.54 L499.30 45.32 L500.11 46.09 L500.91 46.86 L501.72 47.62 L502.53 48.37 L503.33 49.11 L504.14 49.83 L504.95 50.54 L505.76 51.23 L506.56 51.90 L507.37 52.56 L508.18 53.20 L508.98 53.82 L509.79 54.42 L510.60 55.01 L511.41 55.59 L512.21 56.14 L513.02 56.68 L513.83 57.21 L514.63 57.72 L515.44 58.22 L516.25 58.70 L517.06 59.18 L517.86 59.63 L518.67 60.08 L519.48 60.51 L520.29 60.93 L521.09 61.34 L521.90 61.74 L522.71 62.12 L523.51 62.50 L524.32 62.87 L525.13 63.22 L525.94 63.57 L526.74 63.91 L527.55 64.24 L528.36 64.56 L529.17 64.87 L529.97 65.17 L530.78 65.47 L531.59 65.76 L532.39 66.05 L533.20 66.32 L534.01 66.60 L534.82 66.86 L535.62 67.12 L536.43 67.38 L537.24 67.63 L538.04 67.88 L538.85 68.12 L539.66 68.36 L540.47 68.60 L541.27 68.82 L542.08 69.04 L542.89 69.26 L543.70 69.46 L544.50 69.65 L545.31 69.83 L546.12 69.99 L546.92 70.15 L547.73 70.28 L548.54 70.41 L549.35 70.51 L550.15 70.60 L550.96 70.67 L551.77 70.72 L552.57 70.75 L553.38 70.76 L554.19 70.74 L555.00 70.71 L555.80 70.64 L556.61 70.55 L557.42 70.44 L558.23 70.30 L559.03 70.13 L559.84 69.93 L560.65 69.70 L561.45 69.43 L562.26 69.14 L563.07 68.81 L563.88 68.45 L564.68 68.05 L565.49 67.61 L566.30 67.14 L567.10 66.63 L567.91 66.08 L568.72 65.49 L569.53 64.85 L570.33 64.18 L571.14 63.46 L571.95 62.70 L572.75 61.91 L573.56 61.08 L574.37 60.21 L575.18 59.32 L575.98 58.40 L576.79 57.46 L577.60 56.50 L578.41 55.52 L579.21 54.53 L580.02 53.52 L580.83 52.51 L581.63 51.49 L582.44 50.47 L583.25 49.44 L584.06 48.42 L584.86 47.41 L585.67 46.40 L586.48 45.41 L587.29 44.43 L588.09 43.46 L588.90 42.52 L589.71 41.60 L590.51 40.71 L591.32 39.84 L592.13 39.01 L592.94 38.21 L593.74 37.45 L594.55 36.72 L595.36 36.05 L596.16 35.41 L596.97 34.83 L597.78 34.30 L598.59 33.82 L599.39 33.40 L600.20 33.04 L601.01 32.75 L601.82 32.52 L602.62 32.36 L603.43 32.27 L604.24 32.25 L605.04 32.30 L605.85 32.41 L606.66 32.59 L607.47 32.82 L608.27 33.12 L609.08 33.46 L609.89 33.86 L610.69 34.31 L611.50 34.81 L612.31 35.35 L613.12 35.93 L613.92 36.55 L614.73 37.21 L615.54 37.91 L616.35 38.64 L617.15 39.39 L617.96 40.18 L618.77 40.99 L619.57 41.82 L620.38 42.68 L621.19 43.55 L622.00 44.43 L622.80 45.33 L623.61 46.24 L624.42 47.15 L625.22 48.08 L626.03 49.00 L626.84 49.92 L627.65 50.84 L628.45 51.76 L629.26 52.67 L630.07 53.57 L630.88 54.46 L631.68 55.33 L632.49 56.19 L633.30 57.03 L634.10 57.84 L634.91 58.63 L635.74 59.41 L636.57 60.17 L637.39 60.90 L638.22 61.60 L639.05 62.27 L639.88 62.92 L640.71 63.55 L641.53 64.16 L642.36 64.74 L643.19 65.30 L644.02 65.83 L644.85 66.35 L645.67 66.85 L646.50 67.33 L647.33 67.79 L648.16 68.23 L648.99 68.66 L649.81 69.07 L650.64 69.47 L651.47 69.85 L652.30 70.21 L653.13 70.57 L653.95 70.91 L654.78 71.24 L655.61 71.56 L656.44 71.87 L657.26 72.17 L658.09 72.46 L658.92 72.74 L659.75 73.01 L660.58 73.28 L661.40 73.54 L662.23 73.80 L663.06 74.05 L663.89 74.30 L664.72 74.55 L665.54 74.79 L666.37 75.04 L667.20 75.28" fill="none" stroke="#2442a6" stroke-width="1.1" stroke-dasharray="1.1 1.9" clip-path="url(#cb)"/><g><path d="M376.60 83.73L379.30 79.13L373.90 79.13Z" fill="none" stroke="#b88888" stroke-width="1.15" stroke-linejoin="miter" opacity="0.3"/><path d="M408.89 75.22L411.59 70.62L406.19 70.62Z" fill="none" stroke="#b88888" stroke-width="1.15" stroke-linejoin="miter"/><path d="M441.18 44.14L443.88 39.54L438.48 39.54Z" fill="none" stroke="#b88888" stroke-width="1.15" stroke-linejoin="miter"/><path d="M473.47 33.41L476.17 28.81L470.77 28.81Z" fill="none" stroke="#b88888" stroke-width="1.15" stroke-linejoin="miter"/><path d="M505.76 62.64L508.46 58.04L503.06 58.04Z" fill="none" stroke="#b88888" stroke-width="1.15" stroke-linejoin="miter"/><path d="M538.04 80.77L540.74 76.17L535.34 76.17Z" fill="none" stroke="#b88888" stroke-width="1.15" stroke-linejoin="miter"/><path d="M570.33 76.70L573.03 72.10L567.63 72.10Z" fill="none" stroke="#b88888" stroke-width="1.15" stroke-linejoin="miter"/><path d="M602.62 55.24L605.32 50.64L599.92 50.64Z" fill="none" stroke="#b88888" stroke-width="1.15" stroke-linejoin="miter"/><path d="M634.91 94.83L637.61 90.23L632.21 90.23Z" fill="none" stroke="#b88888" stroke-width="1.15" stroke-linejoin="miter"/><path d="M667.20 116.29L669.90 111.69L664.50 111.69Z" fill="none" stroke="#b88888" stroke-width="1.15" stroke-linejoin="miter"/><path d="M376.60 78.67L379.30 83.27L373.90 83.27Z" fill="none" stroke="#48b430" stroke-width="1.15" stroke-linejoin="miter" opacity="0.3"/><path d="M408.89 68.68L411.59 73.28L406.19 73.28Z" fill="none" stroke="#48b430" stroke-width="1.15" stroke-linejoin="miter"/><path d="M441.18 35.38L443.88 39.98L438.48 39.98Z" fill="none" stroke="#48b430" stroke-width="1.15" stroke-linejoin="miter"/><path d="M473.47 6.89L476.17 11.49L470.77 11.49Z" fill="none" stroke="#48b430" stroke-width="1.15" stroke-linejoin="miter"/><path d="M505.76 27.24L508.46 31.84L503.06 31.84Z" fill="none" stroke="#48b430" stroke-width="1.15" stroke-linejoin="miter"/><path d="M538.04 42.41L540.74 47.01L535.34 47.01Z" fill="none" stroke="#48b430" stroke-width="1.15" stroke-linejoin="miter"/><path d="M570.33 37.60L573.03 42.20L567.63 42.20Z" fill="none" stroke="#48b430" stroke-width="1.15" stroke-linejoin="miter"/><path d="M602.62 3.19L605.32 7.79L599.92 7.79Z" fill="none" stroke="#48b430" stroke-width="1.15" stroke-linejoin="miter"/><path d="M634.91 21.69L637.61 26.29L632.21 26.29Z" fill="none" stroke="#48b430" stroke-width="1.15" stroke-linejoin="miter"/><path d="M667.20 40.93L669.90 45.53L664.50 45.53Z" fill="none" stroke="#48b430" stroke-width="1.15" stroke-linejoin="miter"/><path d="M376.60 78.40L379.40 81.20L376.60 84.00L373.80 81.20Z" fill="none" stroke="#2442a6" stroke-width="1.3" opacity="0.3"/><path d="M408.89 72.48L411.69 75.28L408.89 78.08L406.09 75.28Z" fill="none" stroke="#2442a6" stroke-width="1.3"/><path d="M441.18 42.14L443.98 44.94L441.18 47.74L438.38 44.94Z" fill="none" stroke="#2442a6" stroke-width="1.3"/><path d="M473.47 23.27L476.27 26.07L473.47 28.87L470.67 26.07Z" fill="none" stroke="#2442a6" stroke-width="1.3"/><path d="M505.76 48.43L508.56 51.23L505.76 54.03L502.96 51.23Z" fill="none" stroke="#2442a6" stroke-width="1.3"/><path d="M538.04 65.08L540.84 67.88L538.04 70.68L535.24 67.88Z" fill="none" stroke="#2442a6" stroke-width="1.3"/><path d="M570.33 61.38L573.13 64.18L570.33 66.98L567.53 64.18Z" fill="none" stroke="#2442a6" stroke-width="1.3"/><path d="M602.62 29.56L605.42 32.36L602.62 35.16L599.82 32.36Z" fill="none" stroke="#2442a6" stroke-width="1.3"/><path d="M634.91 55.83L637.71 58.63L634.91 61.43L632.11 58.63Z" fill="none" stroke="#2442a6" stroke-width="1.3"/><path d="M667.20 72.48L670.00 75.28L667.20 78.08L664.40 75.28Z" fill="none" stroke="#2442a6" stroke-width="1.3"/></g><line x1="235.31" y1="208.77" x2="453.79" y2="205.03" stroke="#111" stroke-width="1.1"/><line x1="235.31" y1="232.38" x2="453.79" y2="188.58" stroke="#e01c24" stroke-width="1.15" stroke-dasharray="3.6 2.6"/><line x1="271.73" y1="240.95" x2="417.38" y2="177.07" stroke="#2442a6" stroke-width="1.1" stroke-dasharray="1.1 1.9"/><circle cx="235.31" cy="208.87" r="2.61" fill="none" stroke="#111" stroke-width="1.05"/><circle cx="271.73" cy="207.77" r="2.61" fill="none" stroke="#111" stroke-width="1.05"/><circle cx="308.14" cy="207.26" r="2.61" fill="none" stroke="#111" stroke-width="1.05"/><circle cx="380.96" cy="208.97" r="2.61" fill="none" stroke="#111" stroke-width="1.05"/><circle cx="417.38" cy="205.14" r="2.61" fill="none" stroke="#111" stroke-width="1.05"/><circle cx="453.79" cy="204.69" r="2.61" fill="none" stroke="#111" stroke-width="1.05"/><rect x="233.29" y="230.94" width="4.05" height="4.05" fill="none" stroke="#e01c24" stroke-width="1.0"/><rect x="269.70" y="222.54" width="4.05" height="4.05" fill="none" stroke="#e01c24" stroke-width="1.0"/><rect x="306.11" y="215.35" width="4.05" height="4.05" fill="none" stroke="#e01c24" stroke-width="1.0"/><rect x="342.53" y="208.66" width="4.05" height="4.05" fill="none" stroke="#e01c24" stroke-width="1.0"/><rect x="378.94" y="201.29" width="4.05" height="4.05" fill="none" stroke="#e01c24" stroke-width="1.0"/><rect x="415.35" y="194.10" width="4.05" height="4.05" fill="none" stroke="#e01c24" stroke-width="1.0"/><rect x="451.76" y="186.39" width="4.05" height="4.05" fill="none" stroke="#e01c24" stroke-width="1.0"/><path d="M271.73 240.96L274.53 243.76L271.73 246.56L268.93 243.76Z" fill="none" stroke="#2442a6" stroke-width="1.1"/><path d="M308.14 219.37L310.94 222.17L308.14 224.97L305.34 222.17Z" fill="none" stroke="#2442a6" stroke-width="1.1"/><path d="M344.55 204.77L347.35 207.57L344.55 210.37L341.75 207.57Z" fill="none" stroke="#2442a6" stroke-width="1.1"/><path d="M380.96 190.24L383.76 193.04L380.96 195.84L378.16 193.04Z" fill="none" stroke="#2442a6" stroke-width="1.1"/><path d="M417.38 175.64L420.18 178.44L417.38 181.24L414.57 178.44Z" fill="none" stroke="#2442a6" stroke-width="1.1"/><rect x="37.60" y="4.40" width="290.90" height="114.60" fill="none" stroke="#1a1a1a" stroke-width="1.25"/><path d="M95.78 119.00v-6.2M95.78 4.40v6.2M153.96 119.00v-6.2M153.96 4.40v6.2M212.14 119.00v-6.2M212.14 4.40v6.2M270.32 119.00v-6.2M270.32 4.40v6.2M66.69 119.00v-3.4M66.69 4.40v3.4M124.87 119.00v-3.4M124.87 4.40v3.4M183.05 119.00v-3.4M183.05 4.40v3.4M241.23 119.00v-3.4M241.23 4.40v3.4M299.41 119.00v-3.4M299.41 4.40v3.4M37.60 23.50h6.2M328.50 23.50h-6.2M37.60 42.60h6.2M328.50 42.60h-6.2M37.60 61.70h6.2M328.50 61.70h-6.2M37.60 80.80h6.2M328.50 80.80h-6.2M37.60 99.90h6.2M328.50 99.90h-6.2M37.60 13.95h3.4M328.50 13.95h-3.4M37.60 33.05h3.4M328.50 33.05h-3.4M37.60 52.15h3.4M328.50 52.15h-3.4M37.60 71.25h3.4M328.50 71.25h-3.4M37.60 90.35h3.4M328.50 90.35h-3.4M37.60 109.45h3.4M328.50 109.45h-3.4" stroke="#1a1a1a" stroke-width="1.1" fill="none"/><rect x="376.60" y="3.60" width="290.60" height="114.60" fill="none" stroke="#1a1a1a" stroke-width="1.25"/><path d="M434.72 118.20v-6.2M434.72 3.60v6.2M492.84 118.20v-6.2M492.84 3.60v6.2M550.96 118.20v-6.2M550.96 3.60v6.2M609.08 118.20v-6.2M609.08 3.60v6.2M405.66 118.20v-3.4M405.66 3.60v3.4M463.78 118.20v-3.4M463.78 3.60v3.4M521.90 118.20v-3.4M521.90 3.60v3.4M580.02 118.20v-3.4M580.02 3.60v3.4M638.14 118.20v-3.4M638.14 3.60v3.4M376.60 7.20h6.2M667.20 7.20h-6.2M376.60 25.70h6.2M667.20 25.70h-6.2M376.60 44.20h6.2M667.20 44.20h-6.2M376.60 62.70h6.2M667.20 62.70h-6.2M376.60 81.20h6.2M667.20 81.20h-6.2M376.60 99.70h6.2M667.20 99.70h-6.2M376.60 16.45h3.4M667.20 16.45h-3.4M376.60 34.95h3.4M667.20 34.95h-3.4M376.60 53.45h3.4M667.20 53.45h-3.4M376.60 71.95h3.4M667.20 71.95h-3.4M376.60 90.45h3.4M667.20 90.45h-3.4M376.60 108.95h3.4M667.20 108.95h-3.4" stroke="#1a1a1a" stroke-width="1.1" fill="none"/><rect x="198.90" y="162.19" width="291.30" height="102.81" fill="none" stroke="#1a1a1a" stroke-width="1.25"/><path d="M235.31 265.00v-6.2M235.31 162.19v6.2M271.73 265.00v-6.2M271.73 162.19v6.2M308.14 265.00v-6.2M308.14 162.19v6.2M344.55 265.00v-6.2M344.55 162.19v6.2M380.96 265.00v-6.2M380.96 162.19v6.2M417.38 265.00v-6.2M417.38 162.19v6.2M453.79 265.00v-6.2M453.79 162.19v6.2M217.11 265.00v-3.4M217.11 162.19v3.4M253.52 265.00v-3.4M253.52 162.19v3.4M289.93 265.00v-3.4M289.93 162.19v3.4M326.34 265.00v-3.4M326.34 162.19v3.4M362.76 265.00v-3.4M362.76 162.19v3.4M399.17 265.00v-3.4M399.17 162.19v3.4M435.58 265.00v-3.4M435.58 162.19v3.4M471.99 265.00v-3.4M471.99 162.19v3.4M198.90 179.33h6.2M490.20 179.33h-6.2M198.90 196.47h6.2M490.20 196.47h-6.2M198.90 213.60h6.2M490.20 213.60h-6.2M198.90 230.73h6.2M490.20 230.73h-6.2M198.90 247.87h6.2M490.20 247.87h-6.2M198.90 170.76h3.4M490.20 170.76h-3.4M198.90 187.90h3.4M490.20 187.90h-3.4M198.90 205.03h3.4M490.20 205.03h-3.4M198.90 222.17h3.4M490.20 222.17h-3.4M198.90 239.30h3.4M490.20 239.30h-3.4M198.90 256.44h3.4M490.20 256.44h-3.4" stroke="#1a1a1a" stroke-width="1.1" fill="none"/><g style="font-family:'Liberation Serif',serif" fill="#000" stroke="#000" stroke-width="0.15"><text x="34.40" y="8.80" text-anchor="end" font-size="11.8">0.2</text><text x="34.40" y="27.90" text-anchor="end" font-size="11.8">0.15</text><text x="34.40" y="47.00" text-anchor="end" font-size="11.8">0.1</text><text x="34.40" y="66.10" text-anchor="end" font-size="11.8">0.05</text><text x="34.40" y="85.20" text-anchor="end" font-size="11.8">0</text><text x="34.40" y="104.30" text-anchor="end" font-size="11.8">-0.05</text><text x="34.40" y="123.40" text-anchor="end" font-size="11.8">-0.1</text><text x="37.60" y="130.40" text-anchor="middle" font-size="11.8">0</text><text x="95.78" y="130.40" text-anchor="middle" font-size="11.8">0.2</text><text x="153.96" y="130.40" text-anchor="middle" font-size="11.8">0.4</text><text x="212.14" y="130.40" text-anchor="middle" font-size="11.8">0.6</text><text x="270.32" y="130.40" text-anchor="middle" font-size="11.8">0.8</text><text x="328.50" y="130.40" text-anchor="middle" font-size="11.8">1</text><text x="373.80" y="11.60" text-anchor="end" font-size="11.8">0.2</text><text x="373.80" y="30.10" text-anchor="end" font-size="11.8">0.15</text><text x="373.80" y="48.60" text-anchor="end" font-size="11.8">0.1</text><text x="373.80" y="67.10" text-anchor="end" font-size="11.8">0.05</text><text x="373.80" y="85.60" text-anchor="end" font-size="11.8">0</text><text x="373.80" y="104.10" text-anchor="end" font-size="11.8">-0.05</text><text x="373.80" y="122.60" text-anchor="end" font-size="11.8">-0.1</text><text x="376.60" y="130.40" text-anchor="middle" font-size="11.8">0</text><text x="434.72" y="130.40" text-anchor="middle" font-size="11.8">0.2</text><text x="492.84" y="130.40" text-anchor="middle" font-size="11.8">0.4</text><text x="550.96" y="130.40" text-anchor="middle" font-size="11.8">0.6</text><text x="609.08" y="130.40" text-anchor="middle" font-size="11.8">0.8</text><text x="667.20" y="130.40" text-anchor="middle" font-size="11.8">1</text><text x="196.30" y="166.59" text-anchor="end" font-size="11.8">0.15</text><text x="196.30" y="183.73" text-anchor="end" font-size="11.8">0.1</text><text x="196.30" y="200.87" text-anchor="end" font-size="11.8">0.05</text><text x="196.30" y="218.00" text-anchor="end" font-size="11.8">0</text><text x="196.30" y="235.13" text-anchor="end" font-size="11.8">-0.05</text><text x="196.30" y="252.27" text-anchor="end" font-size="11.8">-0.1</text><text x="198.90" y="276.40" text-anchor="middle" font-size="11.8">-0.4</text><text x="235.31" y="276.40" text-anchor="middle" font-size="11.8">-0.3</text><text x="271.73" y="276.40" text-anchor="middle" font-size="11.8">-0.2</text><text x="308.14" y="276.40" text-anchor="middle" font-size="11.8">-0.1</text><text x="344.55" y="276.40" text-anchor="middle" font-size="11.8">0</text><text x="380.96" y="276.40" text-anchor="middle" font-size="11.8">0.1</text><text x="417.38" y="276.40" text-anchor="middle" font-size="11.8">0.2</text><text x="453.79" y="276.40" text-anchor="middle" font-size="11.8">0.3</text><text x="490.20" y="276.40" text-anchor="middle" font-size="11.8">0.4</text><text x="185.05" y="142.20" text-anchor="middle" font-size="11.5" textLength="96" lengthAdjust="spacingAndGlyphs">Reaction coordinate</text><text x="522.20" y="142.20" text-anchor="middle" font-size="11.5" textLength="96" lengthAdjust="spacingAndGlyphs">Reaction coordinate</text><text transform="translate(7.6 64.1) rotate(-90)" text-anchor="middle" font-size="10.6" textLength="30.6" lengthAdjust="spacingAndGlyphs" stroke-width="0.2"><tspan font-style="italic">E</tspan> (eV)</text><text transform="translate(344.4 63.75) rotate(-90)" text-anchor="middle" font-size="10.6" textLength="30.6" lengthAdjust="spacingAndGlyphs" stroke-width="0.2"><tspan font-style="italic">E</tspan> (eV)</text><text transform="translate(165.6 215.25) rotate(-90)" text-anchor="middle" font-size="10.6" textLength="37.4" lengthAdjust="spacingAndGlyphs" stroke-width="0.2">&#916;<tspan font-style="italic">E</tspan> (eV)</text><text x="312.70" y="18.00" text-anchor="middle" font-size="9.0" font-weight="bold">(a)</text><text x="652.90" y="15.60" text-anchor="middle" font-size="9.0" font-weight="bold">(b)</text><text x="476.90" y="176.00" text-anchor="middle" font-size="9.0" font-weight="bold">(c)</text><text x="50.9" y="22.75" font-size="9.3" stroke-width="0.3"><tspan font-style="italic">q</tspan> = +0.5</text><text x="387.2" y="19.1" font-size="9.1" stroke-width="0.3"><tspan font-style="italic">q</tspan> = +1</text><path d="M326.64 281.06C325.98 279.73 323.15 279.73 322.49 281.39C321.99 282.72 322.99 283.63 324.15 283.63M323.49 283.63C320.83 283.88 319.58 285.71 320.42 287.37C321.25 288.70 324.56 288.37 325.64 286.71" fill="none" stroke="#111" stroke-width="1.41" stroke-linecap="round"/><text x="329.8" y="288.2" font-size="11.8">(eV/&#197;)</text></g><rect x="113.2" y="73.4" width="75.2" height="39.69999999999999" fill="#fff" stroke="#1a1a1a" stroke-width="1.15"/><rect x="117.80" y="78.70" width="4.60" height="4.60" fill="none" stroke="#e01c24" stroke-width="1.1"/><path d="M132.12 79.50C131.61 78.47 129.43 78.47 128.92 79.75C128.54 80.78 129.30 81.48 130.20 81.48M129.69 81.48C127.64 81.67 126.68 83.08 127.32 84.36C127.96 85.38 130.52 85.13 131.35 83.85" fill="none" stroke="#111" stroke-width="1.09" stroke-linecap="round"/><text x="134.40" y="85.00" font-size="9.6" style="font-family:'Liberation Serif',serif" fill="#000" stroke="#000" stroke-width="0.2">=</text><text x="144.60" y="85.00" font-size="9.6" style="font-family:'Liberation Serif',serif" fill="#000" stroke="#000" stroke-width="0.2">0.0 eV/&#197;</text><path d="M120.10 89.97L122.80 94.57L117.40 94.57Z" fill="none" stroke="#48b430" stroke-width="1.1" stroke-linejoin="miter"/><path d="M132.12 91.60C131.61 90.57 129.43 90.57 128.92 91.85C128.54 92.88 129.30 93.58 130.20 93.58M129.69 93.58C127.64 93.77 126.68 95.18 127.32 96.46C127.96 97.48 130.52 97.23 131.35 95.95" fill="none" stroke="#111" stroke-width="1.09" stroke-linecap="round"/><text x="134.40" y="97.10" font-size="9.6" style="font-family:'Liberation Serif',serif" fill="#000" stroke="#000" stroke-width="0.2">=</text><text x="144.60" y="97.10" font-size="9.6" style="font-family:'Liberation Serif',serif" fill="#000" stroke="#000" stroke-width="0.2">0.3 eV/&#197;</text><path d="M120.10 107.13L122.80 102.53L117.40 102.53Z" fill="none" stroke="#b88888" stroke-width="1.1" stroke-linejoin="miter"/><path d="M132.12 103.60C131.61 102.57 129.43 102.57 128.92 103.85C128.54 104.88 129.30 105.58 130.20 105.58M129.69 105.58C127.64 105.77 126.68 107.18 127.32 108.46C127.96 109.48 130.52 109.23 131.35 107.95" fill="none" stroke="#111" stroke-width="1.09" stroke-linecap="round"/><text x="134.40" y="109.10" font-size="9.6" style="font-family:'Liberation Serif',serif" fill="#000" stroke="#000" stroke-width="0.2">=</text><text x="143.10" y="109.10" font-size="9.6" style="font-family:'Liberation Serif',serif" fill="#000" stroke="#000" stroke-width="0.2">-0.3 eV/&#197;</text><rect x="423.4" y="70.4" width="74.20000000000005" height="40.099999999999994" fill="#fff" stroke="#1a1a1a" stroke-width="1.15"/><path d="M429.80 75.76L432.04 78.00L429.80 80.24L427.56 78.00Z" fill="none" stroke="#2442a6" stroke-width="1.1"/><path d="M442.32 77.50C441.81 76.47 439.63 76.47 439.12 77.75C438.74 78.78 439.50 79.48 440.40 79.48M439.89 79.48C437.84 79.67 436.88 81.08 437.52 82.36C438.16 83.38 440.72 83.13 441.55 81.85" fill="none" stroke="#111" stroke-width="1.09" stroke-linecap="round"/><text x="444.60" y="83.00" font-size="9.6" style="font-family:'Liberation Serif',serif" fill="#000" stroke="#000" stroke-width="0.2">=</text><text x="454.80" y="83.00" font-size="9.6" style="font-family:'Liberation Serif',serif" fill="#000" stroke="#000" stroke-width="0.2">0.0 eV/&#197;</text><path d="M429.80 88.78L431.96 92.46L427.64 92.46Z" fill="none" stroke="#48b430" stroke-width="1.1" stroke-linejoin="miter"/><path d="M442.32 89.50C441.81 88.47 439.63 88.47 439.12 89.75C438.74 90.78 439.50 91.48 440.40 91.48M439.89 91.48C437.84 91.67 436.88 93.08 437.52 94.36C438.16 95.38 440.72 95.13 441.55 93.85" fill="none" stroke="#111" stroke-width="1.09" stroke-linecap="round"/><text x="444.60" y="95.00" font-size="9.6" style="font-family:'Liberation Serif',serif" fill="#000" stroke="#000" stroke-width="0.2">=</text><text x="454.80" y="95.00" font-size="9.6" style="font-family:'Liberation Serif',serif" fill="#000" stroke="#000" stroke-width="0.2">0.2 eV/&#197;</text><path d="M429.80 105.02L431.96 101.34L427.64 101.34Z" fill="none" stroke="#b88888" stroke-width="1.1" stroke-linejoin="miter"/><path d="M442.32 101.40C441.81 100.37 439.63 100.37 439.12 101.65C438.74 102.68 439.50 103.38 440.40 103.38M439.89 103.38C437.84 103.57 436.88 104.98 437.52 106.26C438.16 107.28 440.72 107.03 441.55 105.75" fill="none" stroke="#111" stroke-width="1.09" stroke-linecap="round"/><text x="444.60" y="106.90" font-size="9.6" style="font-family:'Liberation Serif',serif" fill="#000" stroke="#000" stroke-width="0.2">=</text><text x="453.30" y="106.90" font-size="9.6" style="font-family:'Liberation Serif',serif" fill="#000" stroke="#000" stroke-width="0.2">-0.2 eV/&#197;</text><rect x="355.5" y="217.7" width="56.89999999999998" height="37.80000000000001" fill="#fff" stroke="#1a1a1a" stroke-width="1.15"/><circle cx="364.90" cy="224.80" r="2.61" fill="none" stroke="#111" stroke-width="1.1"/><text x="371.9" y="227.1" font-size="9.3" style="font-family:'Liberation Serif',serif" fill="#000" stroke="#000" stroke-width="0.2"><tspan font-style="italic">q</tspan> = 0</text><rect x="362.71" y="234.12" width="4.37" height="4.37" fill="none" stroke="#e01c24" stroke-width="1.1"/><text x="371.9" y="238.9" font-size="9.3" style="font-family:'Liberation Serif',serif" fill="#000" stroke="#000" stroke-width="0.2"><tspan font-style="italic">q</tspan> = +0.5</text><path d="M364.90 246.24L367.56 248.90L364.90 251.56L362.24 248.90Z" fill="none" stroke="#2442a6" stroke-width="1.1"/><text x="371.9" y="250.6" font-size="9.3" style="font-family:'Liberation Serif',serif" fill="#000" stroke="#000" stroke-width="0.2"><tspan font-style="italic">q</tspan> = +1</text>
</svg>
</body></html>
